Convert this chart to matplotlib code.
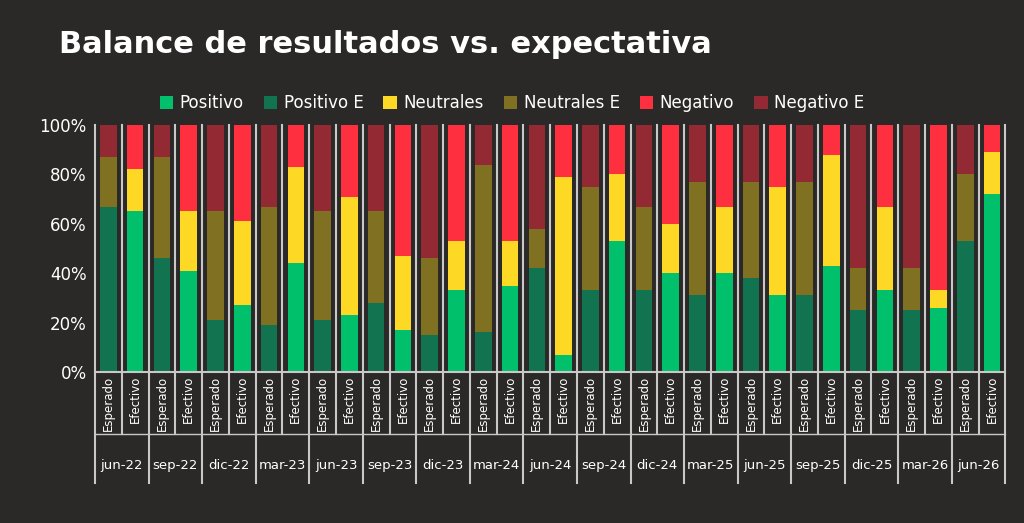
import numpy as np
import matplotlib.pyplot as plt

quarters = ['jun-22', 'sep-22', 'dic-22', 'mar-23', 'jun-23', 'sep-23', 'dic-23', 'mar-24', 'jun-24',
            'sep-24', 'dic-24', 'mar-25', 'jun-25', 'sep-25', 'dic-25', 'mar-26', 'jun-26']
# Esperado bars (E series)
pos_e = [67, 46, 21, 19, 21, 28, 15, 16, 42, 33, 33, 31, 38, 31, 25, 25, 53]
neu_e = [20, 41, 44, 48, 44, 37, 31, 68, 16, 42, 34, 46, 39, 46, 17, 17, 27]
neg_e = [13, 13, 35, 33, 35, 35, 54, 16, 42, 25, 33, 23, 23, 23, 58, 58, 20]
# Efectivo bars
pos = [65, 41, 27, 44, 23, 17, 33, 35, 7, 53, 40, 40, 31, 43, 33, 26, 72]
neu = [17, 24, 34, 39, 48, 30, 20, 18, 72, 27, 20, 27, 44, 45, 34, 7, 17]
neg = [18, 35, 39, 17, 29, 53, 47, 47, 21, 20, 40, 33, 25, 12, 33, 67, 11]

bg = '#2a2928'
c_pos, c_pos_e = '#00c06b', '#127350'
c_neu, c_neu_e = '#fdd825', '#7f7022'
c_neg, c_neg_e = '#fe3040', '#932a33'

fig = plt.figure(figsize=(10.24, 5.23), dpi=100, facecolor=bg)
ax = fig.add_axes([0.0928, 0.2887, 0.889, 0.4723])
ax.set_facecolor(bg)

n = len(quarters)
xe = np.arange(n) * 2
xf = xe + 1
w = 0.62
pos_e, neu_e, neg_e = map(np.array, (pos_e, neu_e, neg_e))
pos, neu, neg = map(np.array, (pos, neu, neg))

ax.bar(xe, pos_e, w, color=c_pos_e, label='Positivo E')
ax.bar(xe, neu_e, w, bottom=pos_e, color=c_neu_e, label='Neutrales E')
ax.bar(xe, neg_e, w, bottom=pos_e + neu_e, color=c_neg_e, label='Negativo E')
ax.bar(xf, pos, w, color=c_pos, label='Positivo')
ax.bar(xf, neu, w, bottom=pos, color=c_neu, label='Neutrales')
ax.bar(xf, neg, w, bottom=pos + neu, color=c_neg, label='Negativo')

ax.set_xlim(-0.5, 2 * n - 0.5)
ax.set_ylim(0, 100)
ax.set_yticks(range(0, 101, 20))
ax.set_yticklabels([f'{v}%' for v in range(0, 101, 20)], color='white', fontsize=12)
ax.tick_params(axis='y', length=0, pad=6)
ax.set_xticks([])
for s in ax.spines.values():
    s.set_visible(False)

# separators between bars, longer at quarter boundaries
for i in range(2 * n + 1):
    xb = i - 0.5
    low = -45 if i % 2 == 0 else -25
    ax.plot([xb, xb], [low, 100], color='#c8c8c8', lw=1.5, clip_on=False)
ax.plot([-0.5, 2 * n - 0.5], [0, 0], color='#c8c8c8', lw=1.5, clip_on=False)
ax.plot([-0.5, 2 * n - 0.5], [-25, -25], color='#c8c8c8', lw=1.0, clip_on=False)

for i in range(n):
    ax.text(xe[i], -1.5, 'Esperado', rotation=90, ha='center', va='top', color='white', fontsize=8.5)
    ax.text(xf[i], -1.5, 'Efectivo', rotation=90, ha='center', va='top', color='white', fontsize=8.5)
    ax.text(xe[i] + 0.5, -38, quarters[i], ha='center', va='center', color='white', fontsize=9.5)

order = ['Positivo', 'Positivo E', 'Neutrales', 'Neutrales E', 'Negativo', 'Negativo E']
h, l = ax.get_legend_handles_labels()
hd = dict(zip(l, h))
fig.legend([hd[k] for k in order], order, loc='center', bbox_to_anchor=(0.5, 0.803), ncol=6,
           frameon=False, fontsize=12, labelcolor='white', handlelength=0.8, handleheight=0.8,
           columnspacing=1.2, handletextpad=0.4)

fig.text(0.058, 0.915, 'Balance de resultados vs. expectativa', color='white', fontsize=22,
         fontweight='bold', va='center')

fig.savefig('out.png', dpi=100, facecolor=bg)
